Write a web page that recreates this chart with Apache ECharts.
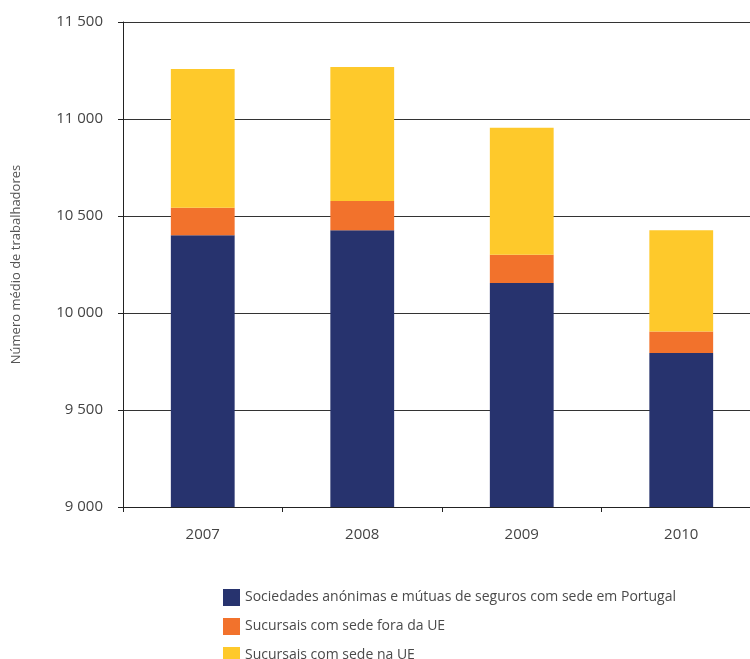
<!DOCTYPE html>
<html>
<head>
<meta charset="utf-8">
<script src="https://cdn.jsdelivr.net/npm/echarts@6/dist/echarts.min.js"></script>
<style>html,body{margin:0;padding:0;background:#fff}#c{width:750px;height:659px}</style>
</head>
<body>
<div id="c"></div>
<script>
var categories = ['2007', '2008', '2009', '2010'];
var sociedades = [10401, 10426, 10155, 9794];
var foraUE = [141, 151, 145, 111];
var naUE = [716, 691, 655, 522];
var seriesNames = ['Sociedades anónimas e mútuas de seguros com sede em Portugal', 'Sucursais com sede fora da UE', 'Sucursais com sede na UE'];
var colors = ['#27336e', '#f2722c', '#fec92b'];

var font = '"Open Sans", "Noto Sans", sans-serif';
var chart = echarts.init(document.getElementById('c'));
function fmt(v){ return String(v).replace(/\B(?=(\d{3})+(?!\d))/g, ' '); }
chart.setOption({
  animation: false,
  color: colors,
  grid: { left: 123, width: 638, top: 22, height: 485, containLabel: false, outerBoundsMode: 'none' },
  legend: {
    orient: 'vertical', left: 218, top: 584, height: 80, itemWidth: 17, itemHeight: 17, itemGap: 12,
    icon: 'rect',
    textStyle: { fontFamily: font, fontSize: 14, color: '#4a4a4a' },
    data: seriesNames
  },
  xAxis: {
    type: 'category', data: categories,
    axisLine: { lineStyle: { color: '#222', width: 1 } },
    axisTick: { show: true, length: 5, lineStyle: { color: '#222' } },
    axisLabel: { fontFamily: font, fontSize: 15, color: '#444', margin: 20 }
  },
  yAxis: {
    type: 'value', min: 9000, max: 11500, interval: 500,
    name: 'Número médio de trabalhadores', nameLocation: 'middle', nameGap: 100,
    nameTextStyle: { fontFamily: font, fontSize: 13, color: '#555' },
    axisLine: { show: true, lineStyle: { color: '#222', width: 1 } },
    axisTick: { show: true, length: 5, lineStyle: { color: '#222' } },
    splitLine: { lineStyle: { color: '#333', width: 1 } },
    axisLabel: { fontFamily: font, fontSize: 15, color: '#444', margin: 20, formatter: fmt }
  },
  series: [
    { name: seriesNames[0], type: 'bar', stack: 's', barWidth: '40%', data: sociedades, itemStyle: { color: colors[0] } },
    { name: seriesNames[1], type: 'bar', stack: 's', barWidth: '40%', data: foraUE, itemStyle: { color: colors[1] } },
    { name: seriesNames[2], type: 'bar', stack: 's', barWidth: '40%', data: naUE, itemStyle: { color: colors[2] } }
  ]
});
</script>
</body>
</html>
